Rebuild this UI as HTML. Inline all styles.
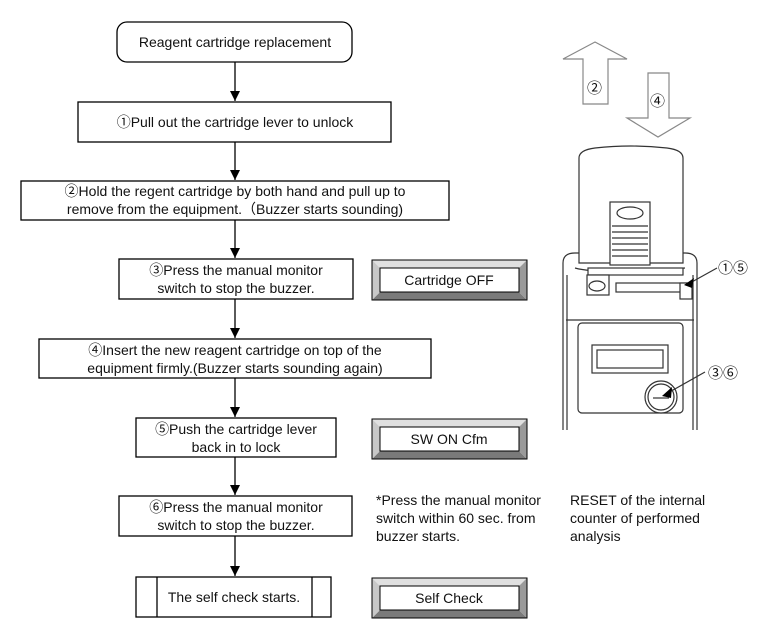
<!DOCTYPE html>
<html><head><meta charset="utf-8"><style>
html,body{margin:0;padding:0;background:#fff}
svg text{font-family:"Liberation Sans","Noto Sans CJK JP",sans-serif;font-size:14px;fill:#111}
</style></head><body>
<svg width="771" height="628" viewBox="0 0 771 628" xmlns="http://www.w3.org/2000/svg">
<defs><marker id="a" markerWidth="12" markerHeight="12" refX="10" refY="5" orient="auto" markerUnits="userSpaceOnUse"><path d="M0,0 L10,5 L0,10Z" fill="#000"/></marker></defs>
<g stroke="#000" stroke-width="1.3" fill="none">
<rect x="117" y="22" width="235" height="40" rx="10"/>
<rect x="78" y="102" width="313" height="40"/>
<rect x="21" y="181" width="428" height="39"/>
<rect x="119" y="259" width="234" height="40"/>
<rect x="39" y="339" width="392" height="39"/>
<rect x="136" y="418" width="200" height="39"/>
<rect x="119" y="496" width="233" height="40"/>
<rect x="136" y="577" width="195" height="40"/>
<line x1="157" y1="577" x2="157" y2="617"/><line x1="312" y1="577" x2="312" y2="617"/>
<line x1="235" y1="62" x2="235" y2="101" marker-end="url(#a)"/>
<line x1="235" y1="142" x2="235" y2="180" marker-end="url(#a)"/>
<line x1="235" y1="220" x2="235" y2="258" marker-end="url(#a)"/>
<line x1="235" y1="299" x2="235" y2="338" marker-end="url(#a)"/>
<line x1="235" y1="378" x2="235" y2="417" marker-end="url(#a)"/>
<line x1="235" y1="457" x2="235" y2="495" marker-end="url(#a)"/>
<line x1="235" y1="536" x2="235" y2="576" marker-end="url(#a)"/>
</g>
<g text-anchor="middle">
<text x="235" y="47">Reagent cartridge replacement</text>
<text x="235" y="127">①Pull out the cartridge lever to unlock</text>
<text x="235" y="196">②Hold the regent cartridge by both hand and pull up to</text>
<text x="235" y="214">remove from the equipment.（Buzzer starts sounding)</text>
<text x="236" y="275">③Press the manual monitor</text>
<text x="236" y="293">switch to stop the buzzer.</text>
<text x="235" y="355">④Insert the new reagent cartridge on top of the</text>
<text x="235" y="373">equipment firmly.(Buzzer starts sounding again)</text>
<text x="236" y="434">⑤Push the cartridge lever</text>
<text x="236" y="452">back in to lock</text>
<text x="236" y="512">⑥Press the manual monitor</text>
<text x="236" y="530">switch to stop the buzzer.</text>
<text x="234" y="602">The self check starts.</text>
</g>
<g id="b1">
<polygon points="372,260 527,260 519,268 380,268" fill="#e0e0e0"/>
<polygon points="372,300 527,300 519,292 380,292" fill="#7a7a7a"/>
<polygon points="372,260 380,268 380,292 372,300" fill="#c8c8c8"/>
<polygon points="527,260 519,268 519,292 527,300" fill="#9a9a9a"/>
<rect x="372" y="260" width="155" height="40" fill="none" stroke="#000"/>
<rect x="380" y="268" width="139" height="24" fill="#fff" stroke="#000"/>
</g>
<use href="#b1" y="159"/>
<use href="#b1" y="318"/>
<g text-anchor="middle">
<text x="449" y="285">Cartridge OFF</text>
<text x="449" y="444">SW ON Cfm</text>
<text x="449" y="603">Self Check</text>
</g>
<text x="376" y="505">*Press the manual monitor</text>
<text x="376" y="523">switch within 60 sec. from</text>
<text x="376" y="541">buzzer starts.</text>
<g style="font-size:12px"><text x="570" y="505">RESET of the internal</text>
<text x="570" y="523">counter of performed</text>
<text x="570" y="541">analysis</text></g>
<g stroke="#333" stroke-width="1.2" fill="#fff">
<polygon points="595,42 627,59 608,59 608,104 583,104 583,59 563,59" stroke="#888"/>
<polygon points="648,73 669,73 669,118 690,118 658,137 627,118 648,118" stroke="#888"/>
<path d="M563,430 L563,263 Q563,253 575,253 L685,253 Q697,253 697,263 L697,430"/>
<path d="M567,430 L567,275 M693,430 L693,275" fill="none"/>
<path d="M579,263 L579,158 Q579,150 595,148 Q631,144 667,148 Q683,150 683,158 L683,263 Z"/>
<rect x="610" y="202" width="40" height="63"/>
<ellipse cx="630" cy="213" rx="13" ry="6"/>
<g fill="none"><line x1="612" y1="226" x2="648" y2="226"/><line x1="612" y1="232" x2="648" y2="232"/><line x1="612" y1="238" x2="648" y2="238"/><line x1="612" y1="244" x2="648" y2="244"/><line x1="612" y1="250" x2="648" y2="250"/><line x1="612" y1="256" x2="648" y2="256"/></g>
<path d="M575,268 Q600,275 685,268" fill="none"/>
<rect x="588" y="268" width="95" height="7"/>
<rect x="587" y="275" width="22" height="20"/>
<ellipse cx="597" cy="286" rx="8" ry="5"/>
<rect x="616" y="283" width="76" height="9"/>
<rect x="680" y="283" width="12" height="16"/>
<line x1="566" y1="320" x2="694" y2="320"/>
<rect x="578" y="323" width="105" height="90" rx="4"/>
<rect x="592" y="345" width="76" height="28"/>
<rect x="597" y="350" width="66" height="18"/>
<circle cx="661" cy="397" r="16"/><circle cx="661" cy="397" r="13"/>
<line x1="653" y1="398" x2="669" y2="398"/>
<line x1="717" y1="268" x2="690" y2="283"/>
<line x1="705" y1="372" x2="666" y2="394"/>
</g>
<polygon points="684,285 694,278 692,288" fill="#000"/>
<polygon points="662,396 672,387 671,398" fill="#000"/>
<text x="587" y="93" style="font-size:15px">②</text>
<text x="650" y="106" style="font-size:15px">④</text>
<text x="718" y="273" style="font-size:15px">①⑤</text>
<text x="708" y="378" style="font-size:15px">③⑥</text>
</svg>
</body></html>
